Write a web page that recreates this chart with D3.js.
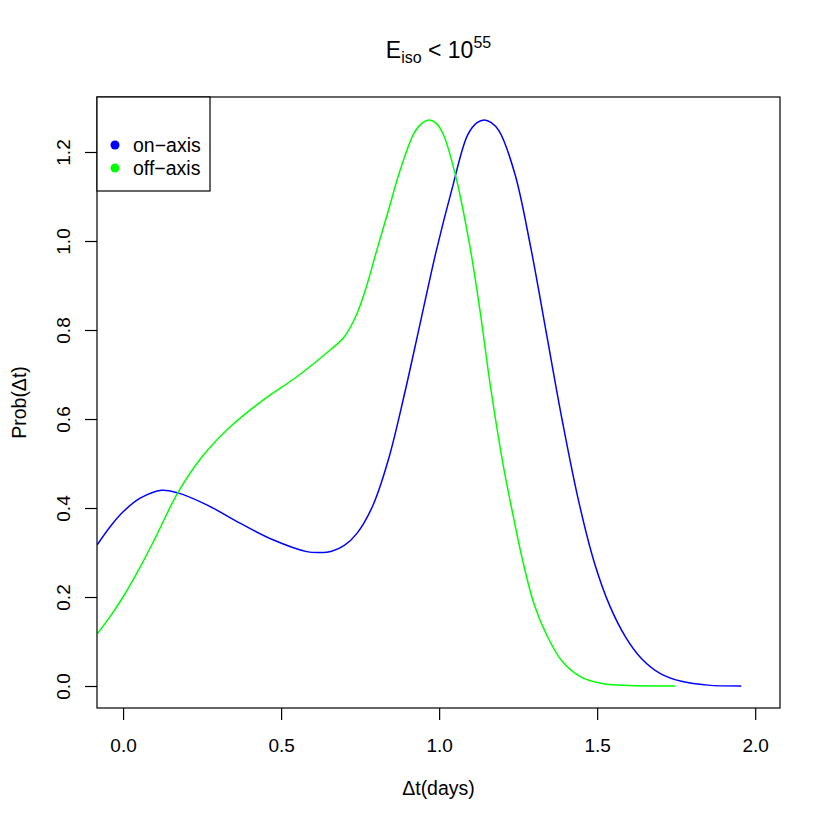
<!DOCTYPE html>
<html><head><meta charset="utf-8">
<script src="https://cdn.jsdelivr.net/npm/d3@7"></script>
<style>body{margin:0;background:#fff}svg{display:block}text{font-family:"Liberation Sans",Arial,sans-serif;fill:#000}</style>
</head><body>
<script>
const onAxisX = [-0.082,-0.041,0.001,0.054,0.122,0.173,0.265,0.37,0.476,0.581,0.623,0.66,0.70,0.74,0.79,0.84,0.89,0.94,0.99,1.04,1.09,1.12,1.143,1.165,1.19,1.24,1.29,1.34,1.39,1.44,1.49,1.54,1.59,1.64,1.70,1.77,1.85,1.956];
const onAxisY = [0.317,0.358,0.392,0.422,0.440,0.434,0.407,0.366,0.328,0.302,0.300,0.303,0.316,0.343,0.405,0.510,0.655,0.815,0.975,1.115,1.238,1.266,1.272,1.266,1.247,1.150,0.985,0.790,0.595,0.420,0.280,0.180,0.110,0.062,0.028,0.010,0.002,0.0];
const offAxisX = [-0.081,-0.04,0.0,0.05,0.1,0.173,0.25,0.34,0.444,0.55,0.655,0.70,0.739,0.771,0.803,0.834,0.877,0.919,0.94,0.968,0.99,1.013,1.051,1.098,1.130,1.161,1.203,1.235,1.264,1.30,1.34,1.39,1.45,1.52,1.60,1.747];
const offAxisY = [0.118,0.157,0.200,0.262,0.330,0.434,0.515,0.583,0.643,0.695,0.755,0.785,0.835,0.900,0.980,1.055,1.160,1.240,1.261,1.272,1.265,1.240,1.150,0.985,0.840,0.680,0.495,0.380,0.283,0.185,0.115,0.055,0.020,0.005,0.001,0.0];
const xTicks = [0.0,0.5,1.0,1.5,2.0];
const yTicks = [0.0,0.2,0.4,0.6,0.8,1.0,1.2];
const seriesNames = ["on\u2212axis","off\u2212axis"];
const seriesColors = ["#0000ff","#00ff00"];

const W=830,H=830, L=97,R=780,T=97,B=708;
const FS="19px";
const svg=d3.select("body").append("svg").attr("width",W).attr("height",H);
const x=d3.scaleLinear().domain([-0.0825,2.0785]).range([L,R]);
const y=d3.scaleLinear().domain([-0.0494,1.3236]).range([B,T]);

svg.append("defs").append("clipPath").attr("id","clip").append("rect")
  .attr("x",L).attr("y",T).attr("width",R-L).attr("height",B-T);

const line=d3.line().x(d=>x(d[0])).y(d=>y(d[1])).curve(d3.curveCatmullRom.alpha(0.5));
const series=[d3.zip(onAxisX,onAxisY), d3.zip(offAxisX,offAxisY)];
series.forEach((s,i)=>{
  svg.append("path").attr("d",line(s)).attr("fill","none").attr("stroke",seriesColors[i])
    .attr("stroke-width",1.5).attr("clip-path","url(#clip)");
});

// box
svg.append("rect").attr("x",L).attr("y",T).attr("width",R-L).attr("height",B-T)
  .attr("fill","none").attr("stroke","#000").attr("stroke-width",1.2);

// axes
const xa=svg.append("g").attr("transform",`translate(0,${B})`)
  .call(d3.axisBottom(x).tickValues(xTicks).tickFormat(d3.format(".1f")).tickSize(12).tickPadding(14));
const ya=svg.append("g").attr("transform",`translate(${L},0)`)
  .call(d3.axisLeft(y).tickValues(yTicks).tickFormat(d3.format(".1f")).tickSize(12));
[xa,ya].forEach(a=>{a.select(".domain").remove();
  a.selectAll("line").attr("stroke","#000").attr("stroke-width",1.2);
  a.selectAll("text").style("font-family","Liberation Sans, Arial, sans-serif").style("font-size",FS).attr("fill","#000");});
xa.selectAll(".tick text").attr("y",44).attr("dy","0");
ya.selectAll(".tick text").attr("transform","rotate(-90)").attr("x",0).attr("y",-27).attr("dy","0").attr("text-anchor","middle");

// title
const t=svg.append("text").attr("x",(L+R)/2).attr("y",58).attr("text-anchor","middle").style("font-size","23px");
t.append("tspan").text("E");
t.append("tspan").attr("dy",5).style("font-size","16px").text("iso");
t.append("tspan").attr("dy",-5).text(" < 10");
t.append("tspan").attr("dy",-10).style("font-size","16px").text("55");

// axis titles
svg.append("text").attr("x",(L+R)/2).attr("y",795).attr("text-anchor","middle").style("font-size","19.5px").text("\u0394t(days)");
svg.append("text").attr("transform",`translate(26,${(T+B)/2}) rotate(-90)`).attr("text-anchor","middle").style("font-size","19.5px").text("Prob(\u0394t)");

// legend
const lg=svg.append("g");
lg.append("rect").attr("x",L).attr("y",T).attr("width",113).attr("height",94).attr("fill","#fff").attr("stroke","#000").attr("stroke-width",1.2);
seriesNames.forEach((n,i)=>{
  lg.append("circle").attr("cx",115).attr("cy",145+i*23).attr("r",4.5).attr("fill",seriesColors[i]);
  lg.append("text").attr("x",133).attr("y",152+i*23).style("font-size","19.5px").text(n);
});
</script>
</body></html>
